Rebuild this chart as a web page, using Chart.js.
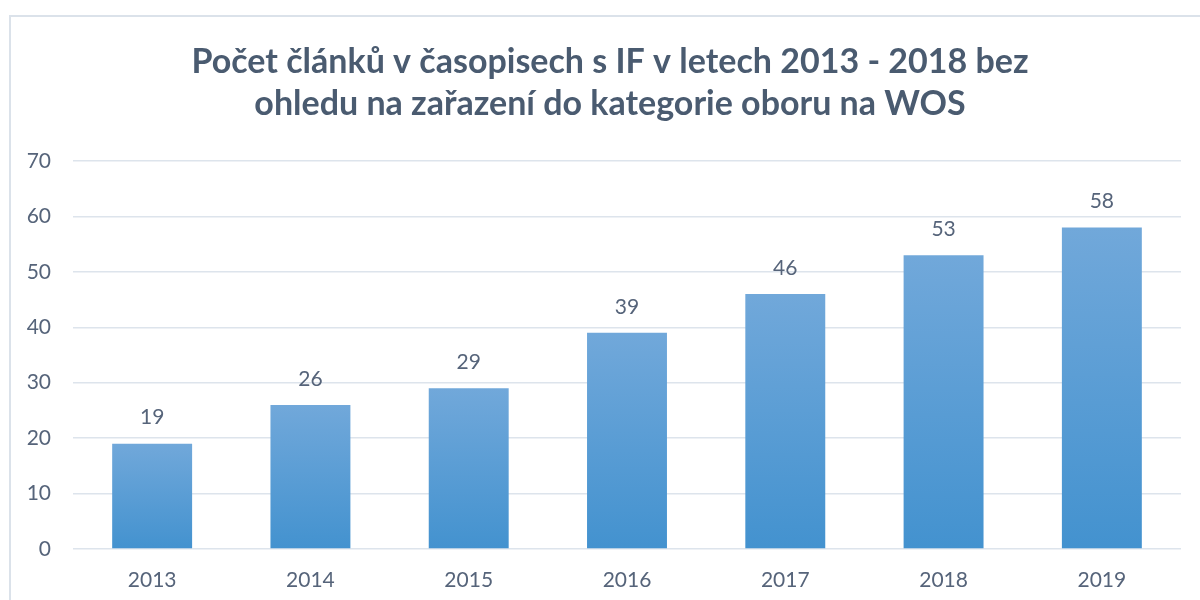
<!DOCTYPE html>
<html>
<head>
<meta charset="utf-8">
<script src="https://cdn.jsdelivr.net/npm/chart.js@4.4.1/dist/chart.umd.min.js"></script>
<style>
  html, body { margin: 0; padding: 0; background: #ffffff; }
  #wrap { position: relative; width: 1200px; height: 600px; overflow: hidden; }
  #frame { position: absolute; left: 9px; top: 15px; width: 1200px; height: 600px; border: 2px solid #dbe2ea; box-sizing: border-box; }
  canvas { position: absolute; left: 0; top: 0; }
</style>
</head>
<body>
<div id="wrap">
  <div id="frame"></div>
  <canvas id="c" width="1200" height="600"></canvas>
</div>
<script>
const titleLines = ['Počet článků v časopisech s IF v letech 2013 - 2018 bez', 'ohledu na zařazení do kategorie oboru na WOS'];
const categories = ['2013', '2014', '2015', '2016', '2017', '2018', '2019'];
const articleCounts = [19, 26, 29, 39, 46, 53, 58];
const yTicks = [0, 10, 20, 30, 40, 50, 60, 70];

const textColor = '#56647a';
const titleColor = '#4a5b70';
const gridColor = '#dde4ec';
const fontFamily = 'Lato, "Open Sans", sans-serif';

function barGradient(context) {
  const chart = context.chart;
  const area = chart.chartArea;
  const y = chart.scales.y;
  if (!area || !y) return '#5a9bd5';
  const top = y.getPixelForValue(context.raw);
  const bottom = y.getPixelForValue(0);
  if (!isFinite(top) || !isFinite(bottom) || top === bottom) return '#5a9bd5';
  const g = chart.ctx.createLinearGradient(0, top, 0, bottom);
  g.addColorStop(0, '#71a8da');
  g.addColorStop(1, '#4392cf');
  return g;
}

const valueLabels = {
  id: 'valueLabels',
  afterDatasetsDraw(chart) {
    const ctx = chart.ctx;
    const meta = chart.getDatasetMeta(0);
    ctx.save();
    ctx.font = '21px ' + fontFamily;
    ctx.fillStyle = textColor;
    ctx.textAlign = 'center';
    ctx.textBaseline = 'middle';
    meta.data.forEach((bar, i) => {
      ctx.fillText(String(articleCounts[i]), bar.x, bar.y - 26);
    });
    ctx.restore();
  }
};

// Title drawn centred on the chart frame (which is offset from the canvas)
const frameTitle = {
  id: 'frameTitle',
  afterDraw(chart) {
    const ctx = chart.ctx;
    ctx.save();
    ctx.font = 'bold 34px ' + fontFamily;
    ctx.fillStyle = titleColor;
    ctx.textAlign = 'center';
    ctx.textBaseline = 'middle';
    titleLines.forEach((line, i) => {
      ctx.fillText(line, 610, 62 + i * 42);
    });
    ctx.restore();
  }
};

new Chart(document.getElementById('c'), {
  type: 'bar',
  data: {
    labels: categories,
    datasets: [{
      data: articleCounts,
      backgroundColor: barGradient,
      borderWidth: 0,
      categoryPercentage: 1,
      barPercentage: 0.505
    }]
  },
  options: {
    responsive: false,
    animation: false,
    events: [],
    layout: { padding: { left: 0, right: 19, top: 0, bottom: 0 } },
    plugins: {
      legend: { display: false },
      tooltip: { enabled: false },
      title: {
        display: true,
        text: titleLines,
        color: 'rgba(0,0,0,0)',
        font: { family: fontFamily, size: 34, weight: 'bold', lineHeight: 1.235 },
        padding: { top: 41, bottom: 36 }
      }
    },
    scales: {
      x: {
        grid: { display: false, drawTicks: false },
        border: { display: false },
        ticks: { color: textColor, font: { family: fontFamily, size: 21 }, padding: 19 },
        afterFit(scale) { scale.height = 51; }
      },
      y: {
        min: 0,
        max: 70,
        afterBuildTicks(scale) { scale.ticks = yTicks.map(v => ({ value: v })); },
        grid: { color: gridColor, lineWidth: 1.5, drawTicks: false },
        border: { display: false },
        ticks: { color: textColor, font: { family: fontFamily, size: 21 }, padding: 22 },
        afterFit(scale) { scale.width = 73; }
      }
    }
  },
  plugins: [valueLabels, frameTitle]
});
</script>
</body>
</html>
